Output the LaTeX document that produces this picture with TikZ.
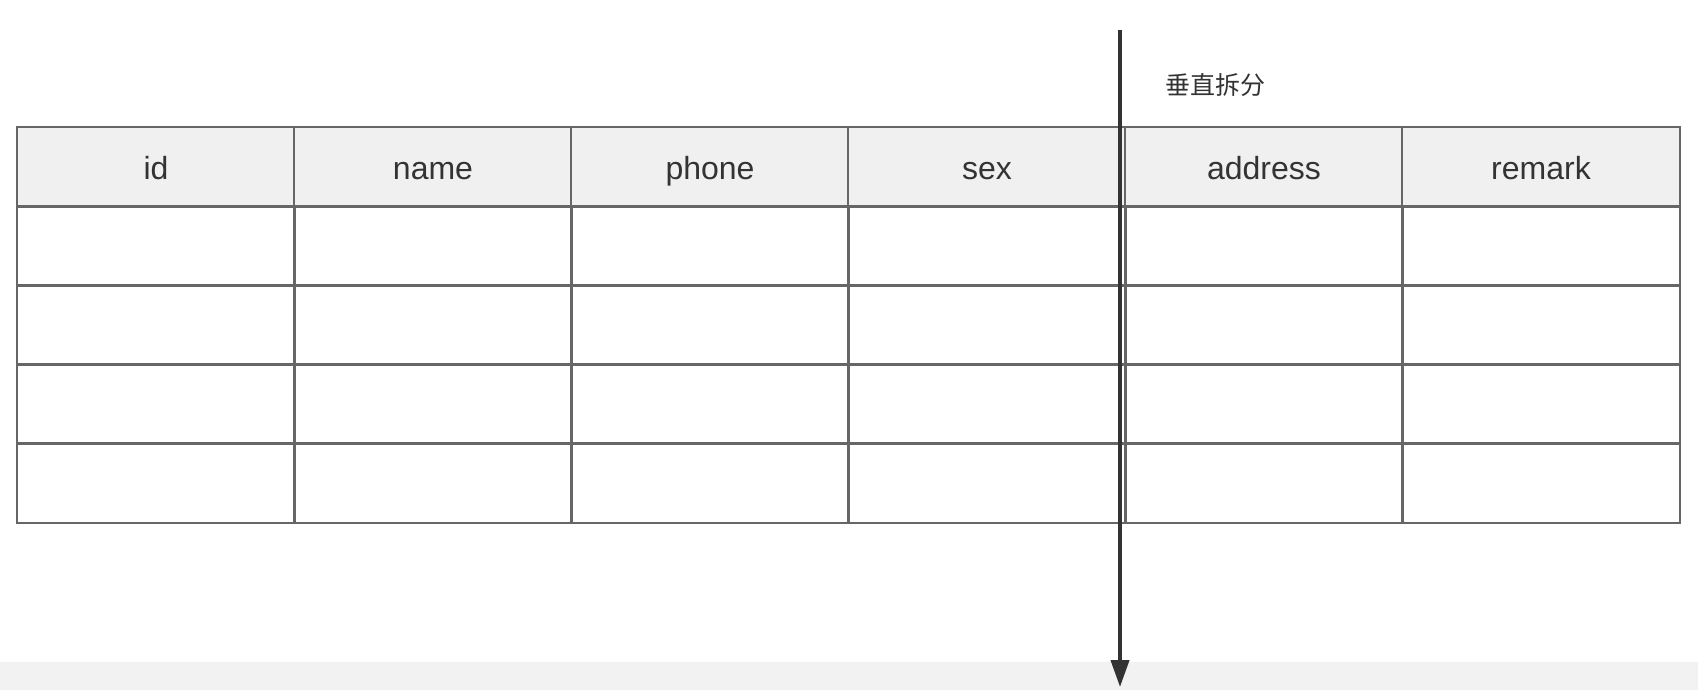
\documentclass[tikz,border=0pt]{standalone}
\usepackage{fontspec}
\setmainfont{Liberation Sans}
\newfontfamily\cjk{Noto Sans CJK SC}
\usetikzlibrary{arrows.meta}
\definecolor{gridline}{HTML}{666666}
\definecolor{headfill}{HTML}{F0F0F0}
\definecolor{ink}{HTML}{333333}
\definecolor{band}{HTML}{F2F2F2}
\begin{document}
\begin{tikzpicture}[x=0.01cm,y=-0.01cm]
\tikzstyle{cell}=[rectangle,draw=gridline,line width=0.02cm,minimum width=2.77cm,minimum height=0.79cm,inner sep=0pt,text=ink,text height=0.32cm,text depth=0.08cm,font=\fontsize{9.1}{11}\selectfont]
\tikzstyle{head}=[cell,fill=headfill]
\tikzstyle{split}=[-{Triangle[width=0.18cm,length=0.27cm]},line width=0.04cm,draw=ink,fill=ink]
\useasboundingbox (0,0) rectangle (1698,690);
\fill[band] (0,662) rectangle (1698,690);
% header row
\foreach \name [count=\i] in {id,name,phone,sex,address,remark}
	\node[head] (h\i) at ({156+277*(\i-1)},167) {\name};
% empty rows
\foreach \i in {1,...,6}
	\foreach \j in {1,...,4}
		\node[cell] (c\i\j) at ({156+277*(\i-1)},{167+79*\j}) {};
\coordinate (top) at (1120,30);
\coordinate (bottom) at (1120,687);
\draw[split] (top) -- (bottom);
\node[text=ink,font=\cjk\fontsize{7.1}{9}\selectfont,anchor=west,inner sep=0pt] (label) at (1165,85) {垂直拆分};
\end{tikzpicture}
\end{document}
